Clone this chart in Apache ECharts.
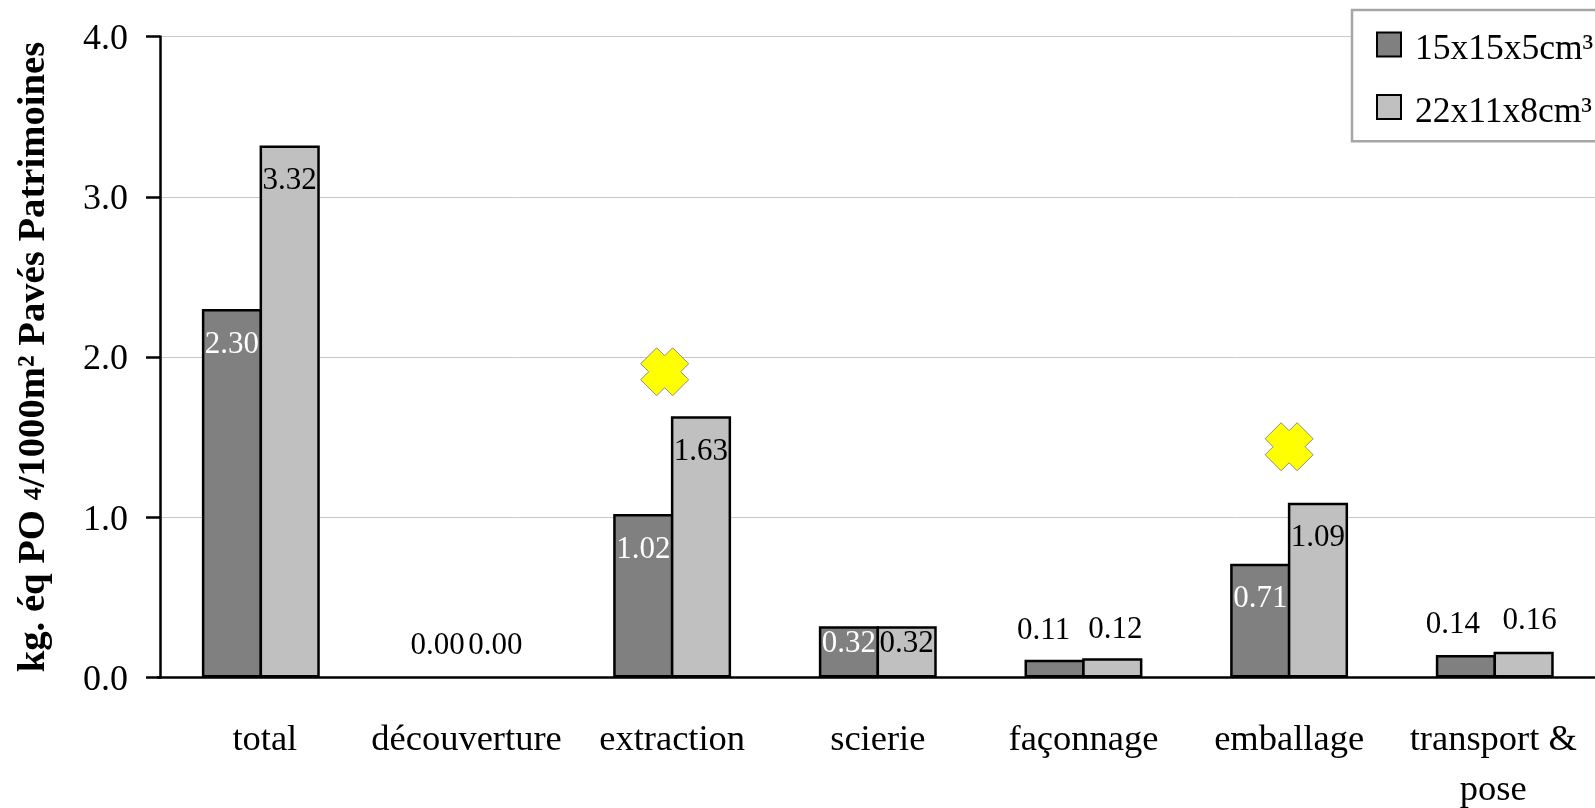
<!DOCTYPE html>
<html>
<head>
<meta charset="utf-8">
<script src="https://cdn.jsdelivr.net/npm/echarts@6/dist/echarts.min.js"></script>
<style>html,body{margin:0;padding:0;background:#fff;overflow:hidden}#c{width:1595px;height:808px}</style>
</head>
<body>
<div id="c"></div>
<script>
const categories = ['total','découverture','extraction','scierie','façonnage','emballage','transport &\npose'];
const seriesNames = ['15x15x5cm³','22x11x8cm³'];
const small = [2.30,0.00,1.02,0.32,0.11,0.71,0.14];
const large = [3.32,0.00,1.63,0.32,0.12,1.09,0.16];
const markers = [null,null,1.908,null,null,1.44,null];
const yTicks = [0,1,2,3,4];

const serif = '"Liberation Serif","Times New Roman",serif';
const crossPath = 'path://M2 0L3 1L4 0L6 2L5 3L6 4L4 6L3 5L2 6L0 4L1 3L0 2Z';

// label placement per bar: [position, distance, x offset, colour]
const smallLabels = [
  ['insideTop',20,0,'#fff'],['top',16,0,'#000'],['insideTop',20,0,'#fff'],['insideTop',2,0,'#fff'],
  ['top',14,-11,'#000'],['insideTop',20,0,'#fff'],['top',15,-13,'#000']
];
const largeLabels = [
  ['insideTop',20,0,'#000'],['top',16,0,'#000'],['insideTop',20,0,'#000'],['insideTop',2,0,'#000'],
  ['top',13,3,'#000'],['insideTop',20,0,'#000'],['top',16,6,'#000']
];
const markerOffsets = [0,0,-7.5,0,0,0,0];
const categoryPad = [[8,0],[0,0],[0,0],[0,0],[0,0],[0,0],[0,3]];

const strokeW = 2.5;
const barW = 57.7 + strokeW;

function barData(values, labels){
  return values.map((v,i)=>({
    value:v,
    itemStyle:v===0?{borderWidth:0}:undefined,
    label:{position:labels[i][0],distance:labels[i][1],offset:[labels[i][2],0],color:labels[i][3]}
  }));
}
function barSeries(name, values, labels, color){
  return {
    name, type:'bar', barWidth:barW, barGap:(-strokeW/barW*100)+'%', z:3,
    itemStyle:{color, borderColor:'#000', borderWidth:strokeW},
    label:{show:true, fontFamily:serif, fontSize:31, formatter:p=>p.value.toFixed(2)},
    data:barData(values,labels)
  };
}

const chart = echarts.init(document.getElementById('c'),null,{renderer:'canvas'});
chart.setOption({
  animation:false,
  backgroundColor:'#fff',
  textStyle:{fontFamily:serif},
  grid:{left:158,top:36.5,width:1439.6,height:641,containLabel:false,outerBoundsMode:'none'},
  legend:{
    data:seriesNames, orient:'vertical', left:1352, top:10, z:10,
    backgroundColor:'#fff', borderColor:'#a6a6a6', borderWidth:2.5,
    padding:[21.5,40,10.7,24], itemWidth:24, itemHeight:24, itemGap:26,
    icon:'rect', selectedMode:false,
    formatter:n=>'{s| }{t|'+n+'}',
    textStyle:{fontFamily:serif,fontSize:35.5,color:'#000',rich:{
      s:{width:9,lineHeight:47,fontSize:10},
      t:{fontFamily:serif,fontSize:35.5,color:'#000',lineHeight:40,verticalAlign:'bottom'}
    }}
  },
  xAxis:{
    type:'category',
    data:categories.map((c,i)=>({value:c,textStyle:{padding:[0,categoryPad[i][1],0,categoryPad[i][0]]}})),
    axisLine:{show:true,lineStyle:{color:'#000',width:2.5}},
    axisTick:{show:false},
    axisLabel:{interval:0,fontFamily:serif,fontSize:36.5,color:'#000',lineHeight:50,margin:38},
    splitLine:{show:false}
  },
  yAxis:{
    type:'value', min:yTicks[0], max:yTicks[yTicks.length-1], interval:1, offset:-2,
    name:'{a|kg. éq PO }{b|4}{a|/1000m² Pavés Patrimoines}',
    nameLocation:'middle', nameRotate:90, nameGap:106,
    nameTextStyle:{rich:{
      a:{fontFamily:serif,fontSize:38.7,fontWeight:'bold',color:'#000'},
      b:{fontFamily:serif,fontSize:26,fontWeight:'bold',color:'#000'}
    }},
    axisLine:{show:true,lineStyle:{color:'#000',width:2.5}},
    axisTick:{show:true,length:14,lineStyle:{color:'#000',width:2.5}},
    axisLabel:{fontFamily:serif,fontSize:36,color:'#000',margin:32,
      formatter:v=>'{s|}{t|'+v.toFixed(1)+'}',
      rich:{
        s:{width:0,lineHeight:42,fontSize:10},
        t:{fontFamily:serif,fontSize:36,color:'#000',lineHeight:40,verticalAlign:'bottom'}
      }},
    splitLine:{show:true,lineStyle:{color:'#c8c8c8',width:1}}
  },
  series:[
    barSeries(seriesNames[0],small,smallLabels,'#808080'),
    barSeries(seriesNames[1],large,largeLabels,'#c0c0c0'),
    {
      type:'scatter', z:5, symbol:crossPath, symbolSize:48, silent:true,
      itemStyle:{color:'#ffff00',borderColor:'#8c8c8c',borderWidth:1,opacity:1},
      data:markers.map((v,i)=>({value:v,symbolOffset:[markerOffsets[i],0]}))
    }
  ]
});
</script>
</body>
</html>
